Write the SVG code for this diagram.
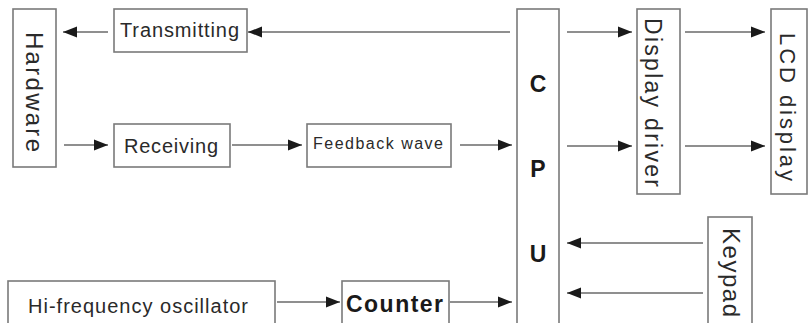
<svg xmlns="http://www.w3.org/2000/svg" width="809" height="323" viewBox="0 0 809 323">
<defs>
<style>
.box{fill:#fff;stroke:#7a7a7a;stroke-width:1.6}
.t{font-family:"Liberation Sans",Arial,sans-serif;fill:#2a2a2a}
.b{font-weight:bold;fill:#1a1a1a}
.c{stroke:#6a6a6a;stroke-width:1.6;fill:none;marker-end:url(#ah)}
</style>
<marker id="ah" markerUnits="userSpaceOnUse" markerWidth="15" markerHeight="12" refX="14" refY="6" orient="auto">
<path d="M0,0.5 L14,6 L0,11.5 z" fill="#1a1a1a"/>
</marker>
</defs>
<rect width="809" height="323" fill="#fff"/>
<g id="hardware"><rect class="box" x="13" y="9" width="43" height="158"/><text class="t" font-size="24" textLength="120" transform="translate(26,32) rotate(90)">Hardware</text></g>
<g id="transmitting"><rect class="box" x="114" y="9" width="133" height="43"/><text class="t" x="120" y="37" font-size="20" textLength="119">Transmitting</text></g>
<g id="receiving"><rect class="box" x="114" y="124" width="116" height="43"/><text class="t" x="124" y="153" font-size="20" textLength="94">Receiving</text></g>
<g id="feedback"><rect class="box" x="307" y="124" width="144" height="43"/><text class="t" x="313" y="149" font-size="16" textLength="130">Feedback wave</text></g>
<g id="cpu"><rect class="box" x="517" y="9" width="42" height="330"/><text class="t b" x="538" y="92" font-size="23" text-anchor="middle">C</text><text class="t b" x="538" y="177" font-size="23" text-anchor="middle">P</text><text class="t b" x="538" y="262" font-size="23" text-anchor="middle">U</text></g>
<g id="display-driver"><rect class="box" x="637" y="9" width="43" height="185"/><text class="t" font-size="23" textLength="169" transform="translate(645,18) rotate(90)">Display driver</text></g>
<g id="lcd"><rect class="box" x="771" y="9" width="36" height="185"/><text class="t" font-size="22" textLength="148" transform="translate(780,33) rotate(90)">LCD display</text></g>
<g id="keypad"><rect class="box" x="708" y="217" width="44" height="120"/><text class="t" font-size="24" textLength="89" transform="translate(723,228) rotate(90)">Keypad</text></g>
<g id="oscillator"><rect class="box" x="8" y="281" width="267" height="60"/><text class="t" x="28" y="313" font-size="20" textLength="220">Hi-frequency oscillator</text></g>
<g id="counter"><rect class="box" x="342" y="281" width="107" height="60"/><text class="t b" x="346" y="312" font-size="23" textLength="97">Counter</text></g>
<g id="connectors">
<line class="c" x1="108" y1="32" x2="63" y2="32"/>
<line class="c" x1="510" y1="32" x2="248" y2="32"/>
<line class="c" x1="567" y1="32" x2="632" y2="32"/>
<line class="c" x1="685" y1="32" x2="765" y2="32"/>
<line class="c" x1="64" y1="145" x2="108" y2="145"/>
<line class="c" x1="232" y1="145" x2="302" y2="145"/>
<line class="c" x1="460" y1="145" x2="512" y2="145"/>
<line class="c" x1="567" y1="146" x2="632" y2="146"/>
<line class="c" x1="685" y1="146" x2="765" y2="146"/>
<line class="c" x1="703" y1="243" x2="567" y2="243"/>
<line class="c" x1="703" y1="293" x2="567" y2="293"/>
<line class="c" x1="277" y1="302" x2="340" y2="302"/>
<line class="c" x1="450" y1="302" x2="512" y2="302"/>
</g>
</svg>
